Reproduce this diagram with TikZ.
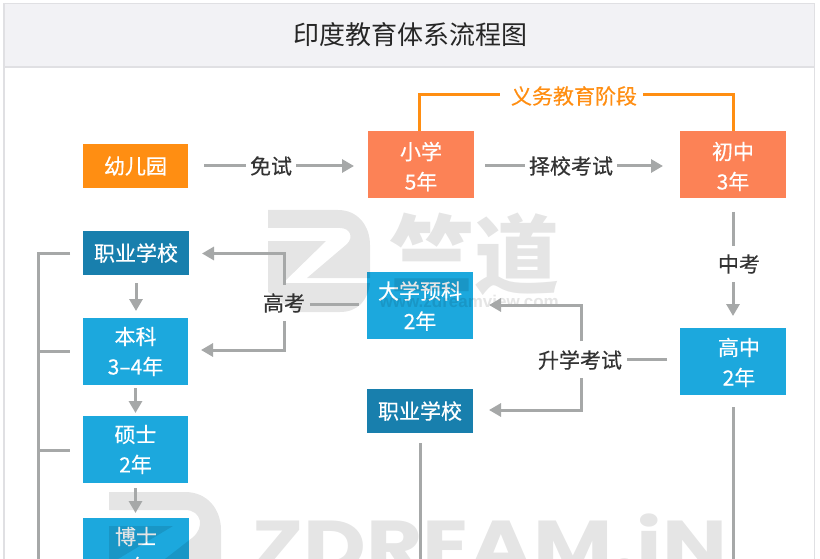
\documentclass[tikz,border=0pt]{standalone}
\usepackage{fontspec}
\setmainfont{Noto Sans CJK SC}
\newfontfamily\medfont[FakeBold=0.35]{Noto Sans CJK SC}
\newfontfamily\wmfont{Poppins}
\newfontfamily\urlfont{Liberation Sans}
\usetikzlibrary{arrows.meta}
\definecolor{cline}{HTML}{A6A8A8}
\definecolor{corange}{HTML}{FF8E12}
\definecolor{ccoral}{HTML}{FC8256}
\definecolor{cblue}{HTML}{1CA8DD}
\definecolor{cdark}{HTML}{187FAD}
\definecolor{cband}{HTML}{F2F2F5}
\definecolor{cborder}{HTML}{E0E0E3}
\definecolor{ctext}{HTML}{333333}
\newcommand{\dnshift}[2]{\raisebox{-#1}[\height][\depth]{#2}}
\tikzset{
 x=1pt,y=-1pt,
 boxbase/.style={minimum width=105.5pt,text=white,font=\medfont\fontsize{21}{30}\selectfont,inner sep=0pt,align=center},
 kg/.style={boxbase,fill=corange,minimum height=44pt},
 coral/.style={boxbase,fill=ccoral,minimum height=67pt},
 blue/.style={boxbase,fill=cblue,minimum height=67pt},
 dark/.style={boxbase,fill=cdark,minimum height=44pt},
 lab/.style={text=ctext,font=\medfont\fontsize{21}{24}\selectfont,inner sep=0pt},
 conn/.style={draw=cline,line width=3pt},
 arr/.style={conn,-{Triangle[length=12pt,width=13pt]}},
 wm/.style={fill=black,fill opacity=.1,draw=none},
 wmtext/.style={text=black,text opacity=.1,inner sep=0pt},
}
\begin{document}
\begin{tikzpicture}
\useasboundingbox (0,0) rectangle (820,559);
\fill[white] (0,0) rectangle (820,559);
\draw[cborder,line width=1.6pt,fill=white] (4,3.5) rectangle (814.5,600);
\draw[cborder,line width=1.6pt,fill=cband] (4,3.5) rectangle (814.5,67);
\node[text=black!85,font=\fontsize{26}{30}\selectfont,inner sep=0pt] (title) at (410,35) {印度教育体系流程图};
% boxes
\node[kg] (kg) at (135.5,166) {幼儿园};
\node[coral] (prim) at (421,164.5) {\dnshift{2pt}{小学}\\\dnshift{2pt}{5年}};
\node[coral] (mid) at (733,164.5) {\dnshift{2pt}{初中}\\\dnshift{2pt}{3年}};
\node[dark] (voc) at (136,253) {职业学校};
\node[blue] (bach) at (135.5,351.5) {本科\\3–4年};
\node[blue] (mast) at (135.5,449.5) {硕士\\2年};
\node[blue] (doc) at (136,551.5) {博士\\4年};
\node[blue] (prep) at (420,305) {\dnshift{1pt}{大学预科}\\\dnshift{1pt}{2年}};
\node[dark] (voc2) at (420,411) {职业学校};
\node[blue] (high) at (733,361.5) {\hspace*{12pt}\dnshift{1pt}{高中}\\\hspace*{12pt}\dnshift{1pt}{2年}};
% watermark
\fill[wm] (268,210) -- (338,210) .. controls (358,210) and (370,226) .. (370,245) -- (370,278) -- (307,278) -- (347,244) .. controls (354,237) and (350,228) .. (340,228) -- (268,228) -- cycle;
\fill[wm] (268,241) -- (326,241) -- (283,283) -- (370,283) .. controls (368,300) and (358,312) .. (340,312) -- (295,312) -- (268,292) -- cycle;
\fill[wm] (109,492) -- (185,492) .. controls (208,492) and (221,510) .. (221,530) -- (221,559) -- (165,559) -- (192,538) .. controls (205,528) and (202,510) .. (185,510) -- (109,510) -- cycle;
\fill[wm] (109,526) -- (173,526) -- (118,559) -- (109,559) -- cycle;
\node[wmtext,font=\wmfont\bfseries\fontsize{72}{72}\selectfont,anchor=west,xscale=1.2,transform shape] (wma) at (252,543) {ZDREAM.iN};
\node[wmtext,font=\bfseries\fontsize{85}{85}\selectfont] (wmb) at (474,254) {竺道};
\node[wmtext,font=\urlfont\bfseries\fontsize{17}{17}\selectfont,anchor=east] (wmc) at (559,301) {www.zdreamview.com};
% labels
\node[lab] (l1) at (271,166) {免试};
\node[lab] (l2) at (571,166) {择校考试};
\node[lab] (l3) at (739,264) {中考};
\node[lab] (l4) at (284,303) {高考};
\node[lab] (l5) at (580,360) {升学考试};
\node[lab,text=corange] (l6) at (574,96) {义务教育阶段};
% connectors
\coordinate (a1) at (204,166); \coordinate (a1e) at (246,166); \draw[conn] (a1) -- (a1e);
\coordinate (a2s) at (296,166); \coordinate (a2) at (354,166); \draw[arr] (a2s) -- (a2);
\coordinate (b1) at (485,166); \coordinate (b1e) at (525,166); \draw[conn] (b1) -- (b1e);
\coordinate (b2s) at (617,166); \coordinate (b2) at (663,166); \draw[arr] (b2s) -- (b2);
\coordinate (c1) at (733,212); \coordinate (c1e) at (733,246); \draw[conn] (c1) -- (c1e);
\coordinate (c2s) at (733,282); \coordinate (c2) at (733,316); \draw[arr] (c2s) -- (c2);
\coordinate (o1) at (500,95); \coordinate (o2) at (643,95);
\draw[corange,line width=3pt] (419,131) -- (419,95) -- (o1);
\draw[corange,line width=3pt] (mid.north) -- (733,95) -- (o2);
% gaokao
\draw[conn] (359,304.5) -- (310,304.5);
\draw[arr] (284.5,285) -- (284.5,253.5) -- (202,253.5);
\draw[arr] (284.5,321) -- (284.5,350) -- (201,350);
% shengxue
\draw[conn] (667,359) -- (627,359);
\draw[arr] (581,341) -- (581,305) -- (489,305);
\draw[arr] (581,378) -- (581,410) -- (489,410);
% left column
\draw[arr] (136,283) -- (136,311);
\draw[arr] (135.5,388) -- (135.5,413);
\draw[arr] (135.5,488) -- (135.5,513);
\draw[conn] (70,253) -- (38,253) -- (38,559);
\draw[conn] (38,351) -- (70,351);
\draw[conn] (38,450) -- (70,450);
\draw[conn] (420,443) -- (420,559);
\draw[conn] (733,407) -- (733,559);
\end{tikzpicture}
\end{document}
